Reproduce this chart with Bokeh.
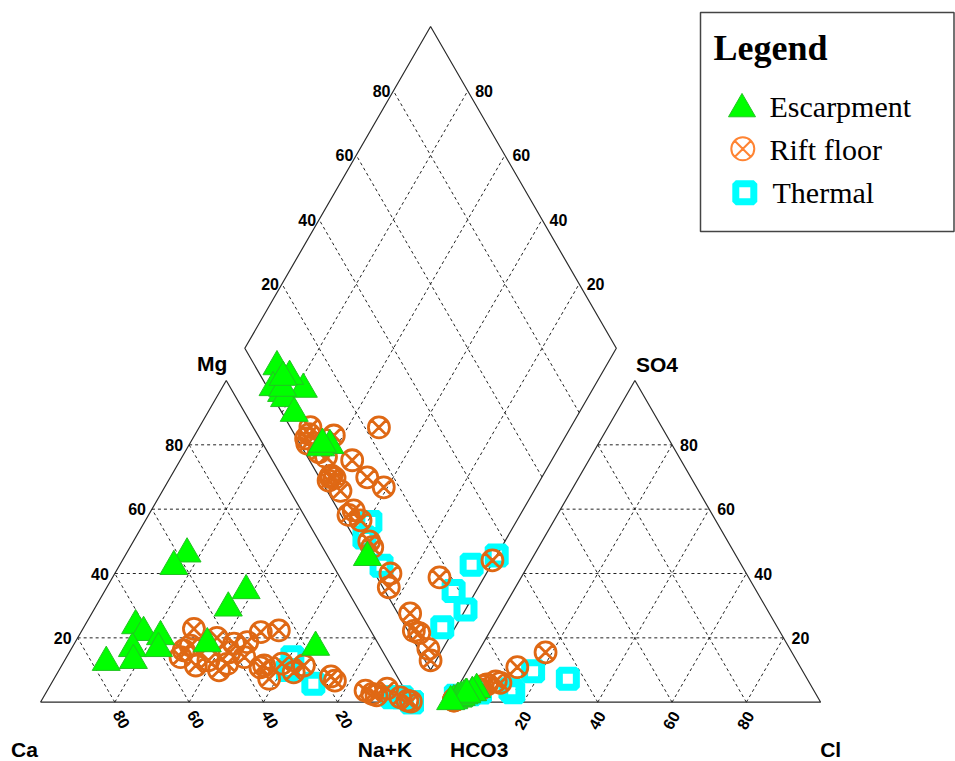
import numpy as np
from bokeh.plotting import figure
from bokeh.models import Range1d, ColumnDataSource
from bokeh.core.properties import value
from bokeh.embed import file_html
from bokeh.resources import INLINE

# ---------------- samples (percent of meq/L) ----------------
# Escarpment springs / wells
esc_mg  = [12.4, 23.8, 21.7, 20.4, 16.7, 13.0, 16.7, 46.1, 42.2, 34.7, 29.3, 18.2, 17.1]
esc_nak = [11.5, 13.7, 16.9, 22.1, 16.4, 18.5, 23.4, 16.4, 14.8, 38.0, 35.9, 35.8, 65.5]
esc_so4 = [2.5, 0.5, 1.2, 4.0, 3.0, 1.0, 1.2, 1.5, 2.3, 3.0, 2.0, 2.5, 0.2]
esc_cl  = [3.3, 1.0, 1.7, 5.4, 4.7, 1.9, 2.0, 2.5, 3.5, 4.8, 3.0, 3.5, 0.3]

# Rift floor groundwater
rift_mg  = [22.8, 16.1, 14.0, 11.4, 20.0, 9.9, 15.5, 18.2, 11.9, 18.7, 14.0, 21.8, 22.3, 11.4, 7.3,
            12.0, 9.3, 11.4, 8.0, 6.7, 3.6, 2.6, 2.1, 4.2, 1.5, 0.5, 0.2, 10.8, 13.0, 17.6]
rift_nak = [29.9, 30.5, 30.7, 36.1, 37.5, 43.1, 43.1, 43.0, 44.3, 46.3, 47.9, 48.4, 53.0, 54.5, 57.9,
            59.0, 63.5, 65.2, 74.2, 75.9, 85.7, 88.0, 89.4, 91.2, 96.1, 98.5, 99.6, 53.8, 38.7, 31.6]
rift_so4 = [2.0, 1.0, 1.5, 1.5, 4.0, 1.5, 1.0, 1.2, 2.0, 5.0, 1.4, 10.9, 5.5, 1.6, 2.0,
            6.5, 1.5, 1.4, 1.7, 0.6, 1.3, 6.0, 0.6, 1.0, 1.2, 0.5, 15.5, 0.8, 2.0, 1.0]
rift_cl  = [3.4, 1.5, 2.5, 2.3, 6.4, 2.0, 1.0, 1.8, 2.0, 6.5, 2.2, 12.9, 7.4, 2.5, 2.4,
            9.3, 2.0, 2.0, 2.5, 1.0, 2.0, 10.8, 1.0, 1.7, 1.5, 1.0, 18.2, 1.2, 3.0, 1.0]

# Thermal springs
th_mg  = [14.0, 5.7, 10.0, 1.5, 0.0, 1.5, 1.6, 0.0]
th_nak = [60.8, 70.6, 61.6, 96.5, 100.0, 93.9, 94.7, 100.0]
th_so4 = [2.5, 1.5, 2.0, 3.0, 3.1, 4.0, 9.6, 7.3]
th_cl  = [4.3, 1.5, 0.8, 6.8, 15.7, 14.5, 17.8, 28.3]

TICKS = [20, 40, 60, 80]
legend_labels = ["Escarpment", "Rift floor", "Thermal"]

# ---------------- Piper geometry ----------------
H = np.sqrt(3) / 2
GAP = 10.0              # gap between the two triangles (percent units)
OFF = 100.0 + GAP       # x of the HCO3 corner


def cat_xy(mg, nak):
    mg = np.asarray(mg, float)
    nak = np.asarray(nak, float)
    return nak + mg / 2, mg * H


def an_xy(so4, cl):
    so4 = np.asarray(so4, float)
    cl = np.asarray(cl, float)
    return OFF + cl + so4 / 2, so4 * H


def dia_xy(nak, so4, cl):
    camg = 100 - np.asarray(nak, float)
    s = np.asarray(so4, float) + np.asarray(cl, float)
    return 100 + GAP / 2 + (s - camg) / 2, GAP * H + (camg + s) * H


def piper_points(mg, nak, so4, cl):
    cx, cy = cat_xy(mg, nak)
    ax, ay = an_xy(so4, cl)
    dx, dy = dia_xy(nak, so4, cl)
    return dict(x=np.concatenate([cx, ax, dx]), y=np.concatenate([cy, ay, dy]))


# ---------------- canvas ----------------
W, HPX = 955, 761
S = 3.715                 # screen px per percent unit
X0, Y0 = 40.0, 701.7      # screen position of the Ca corner


def px2d(sx, sy):
    return (sx - X0) / S, (Y0 - sy) / S


def u(px):
    return px / S


p = figure(width=W, height=HPX,
           x_range=Range1d(-X0 / S, (W - X0) / S),
           y_range=Range1d((Y0 - HPX) / S, Y0 / S),
           output_backend="svg", toolbar_location=None, min_border=0,
           x_axis_type=None, y_axis_type=None)
p.outline_line_color = None
p.background_fill_color = "white"
p.border_fill_color = "white"

# ---------------- grid ----------------
gx, gy = [], []


def seg(a, b):
    gx.append([float(a[0]), float(b[0])])
    gy.append([float(a[1]), float(b[1])])


for t in TICKS:
    seg(cat_xy(t, 0), cat_xy(t, 100 - t))
    seg(cat_xy(0, t), cat_xy(100 - t, t))
    seg(cat_xy(0, 100 - t), cat_xy(100 - t, 0))
    seg(an_xy(t, 0), an_xy(t, 100 - t))
    seg(an_xy(0, t), an_xy(100 - t, t))
    seg(an_xy(0, 100 - t), an_xy(100 - t, 0))
    seg(dia_xy(100 - t, 0, 0), dia_xy(100 - t, 100, 0))
    seg(dia_xy(100, t, 0), dia_xy(0, t, 0))

p.multi_line(gx, gy, line_color="#222222", line_width=1, line_dash="3 3")

# ---------------- outlines ----------------
shapes = [
    [cat_xy(0, 0), cat_xy(0, 100), cat_xy(100, 0)],
    [an_xy(0, 0), an_xy(0, 100), an_xy(100, 0)],
    [dia_xy(100, 0, 0), dia_xy(0, 0, 0), dia_xy(0, 100, 0), dia_xy(100, 100, 0)],
]
ox = [[float(c[0]) for c in sh] + [float(sh[0][0])] for sh in shapes]
oy = [[float(c[1]) for c in sh] + [float(sh[0][1])] for sh in shapes]
p.multi_line(ox, oy, line_color="#2b2b2b", line_width=1.2)

# ---------------- tick labels ----------------
TICK_FONT = value("Liberation Sans")


def add_labels(xs, ys, texts, align, baseline="middle", angle=0.0, size="16px"):
    p.text(x=xs, y=ys, text=texts, angle=angle, text_align=align, text_baseline=baseline,
           text_font=TICK_FONT, text_font_size=size, text_font_style="bold", text_color="black")


lab = [str(t) for t in TICKS]

# Mg along the left edge of the cation triangle
xs, ys = zip(*[(float(cat_xy(t, 0)[0]) - u(6), float(cat_xy(t, 0)[1])) for t in TICKS])
add_labels(list(xs), list(ys), lab, "right")

# SO4 along the right edge of the anion triangle
xs, ys = zip(*[(float(an_xy(t, 100 - t)[0]) + u(8), float(an_xy(t, 100 - t)[1])) for t in TICKS])
add_labels(list(xs), list(ys), lab, "left")

# Ca along the base of the cation triangle
xs, ys = zip(*[(float(cat_xy(0, 100 - t)[0]) + u(7), -u(17)) for t in TICKS])
add_labels(list(xs), list(ys), lab, "center", angle=-np.pi / 3)

# Cl along the base of the anion triangle
xs, ys = zip(*[(float(an_xy(0, t)[0]) - u(1), -u(18)) for t in TICKS])
add_labels(list(xs), list(ys), lab, "center", angle=np.pi / 3)

# diamond: SO4+Cl on the upper-left edge, Ca+Mg on the upper-right edge
xs, ys = zip(*[(float(dia_xy(0, t, 0)[0]) - u(3), float(dia_xy(0, t, 0)[1])) for t in TICKS])
add_labels(list(xs), list(ys), lab, "right")
xs, ys = zip(*[(float(dia_xy(100 - t, 100, 0)[0]) + u(7.5), float(dia_xy(100 - t, 100, 0)[1])) for t in TICKS])
add_labels(list(xs), list(ys), lab, "left")

# ---------------- corner labels ----------------
corners = [
    ("Ca", cat_xy(0, 0), -16, -47.5),
    ("Na+K", cat_xy(0, 100), -27, -47.5),
    ("HCO3", an_xy(0, 0), 30, -47.5),
    ("Cl", an_xy(0, 100), 10, -47.5),
    ("Mg", cat_xy(100, 0), -14, 16.5),
    ("SO4", an_xy(100, 0), 22, 16),
]
p.text(x=[float(c[1][0]) + u(c[2]) for c in corners],
       y=[float(c[1][1]) + u(c[3]) for c in corners],
       text=[c[0] for c in corners],
       text_align="center", text_baseline="middle",
       text_font=TICK_FONT, text_font_size="21px", text_font_style="bold", text_color="black")

# ---------------- samples ----------------
src_th = ColumnDataSource(piper_points(th_mg, th_nak, th_so4, th_cl))
src_rift = ColumnDataSource(piper_points(rift_mg, rift_nak, rift_so4, rift_cl))
src_esc = ColumnDataSource(piper_points(esc_mg, esc_nak, esc_so4, esc_cl))

p.scatter("x", "y", source=src_th, marker="square", size=17,
          fill_alpha=0, line_color="#00ffff", line_width=7)
p.scatter("x", "y", source=src_rift, marker="circle_x", size=21,
          fill_alpha=0, line_color="#df6814", line_width=2.8)
p.scatter("x", "y", source=src_esc, marker="triangle", size=28,
          fill_color="#00ff00", line_color="#22c322", line_width=1)

# ---------------- legend box ----------------
bl = px2d(700, 231)
tr = px2d(953.5, 12)
p.quad(left=bl[0], right=tr[0], bottom=bl[1], top=tr[1],
       fill_color="white", line_color="#444444", line_width=1.5)

SERIF = value("Liberation Serif")
tx, ty = px2d(713, 47.5)
p.text(x=[tx], y=[ty], text=["Legend"], text_align="left", text_baseline="middle",
       text_font=SERIF, text_font_size="36px", text_font_style="bold", text_color="black")

m = [px2d(741.5, 108.5), px2d(742.3, 148.3), px2d(744.3, 192.3)]
p.scatter(x=[m[0][0]], y=[m[0][1]], marker="triangle", size=27,
          fill_color="#00ff00", line_color="#22c322", line_width=1)
p.scatter(x=[m[1][0]], y=[m[1][1]], marker="circle_x", size=23,
          fill_alpha=0, line_color="#ff8433", line_width=2)
p.scatter(x=[m[2][0]], y=[m[2][1]], marker="square", size=18,
          fill_alpha=0, line_color="#00ffff", line_width=7)

lt = [px2d(769, 106), px2d(769, 148.5), px2d(772, 191.5)]
p.text(x=[q[0] for q in lt], y=[q[1] for q in lt], text=legend_labels,
       text_align="left", text_baseline="middle",
       text_font=SERIF, text_font_size="30px", text_color="black")

open("out.html", "w").write(file_html(p, INLINE))
